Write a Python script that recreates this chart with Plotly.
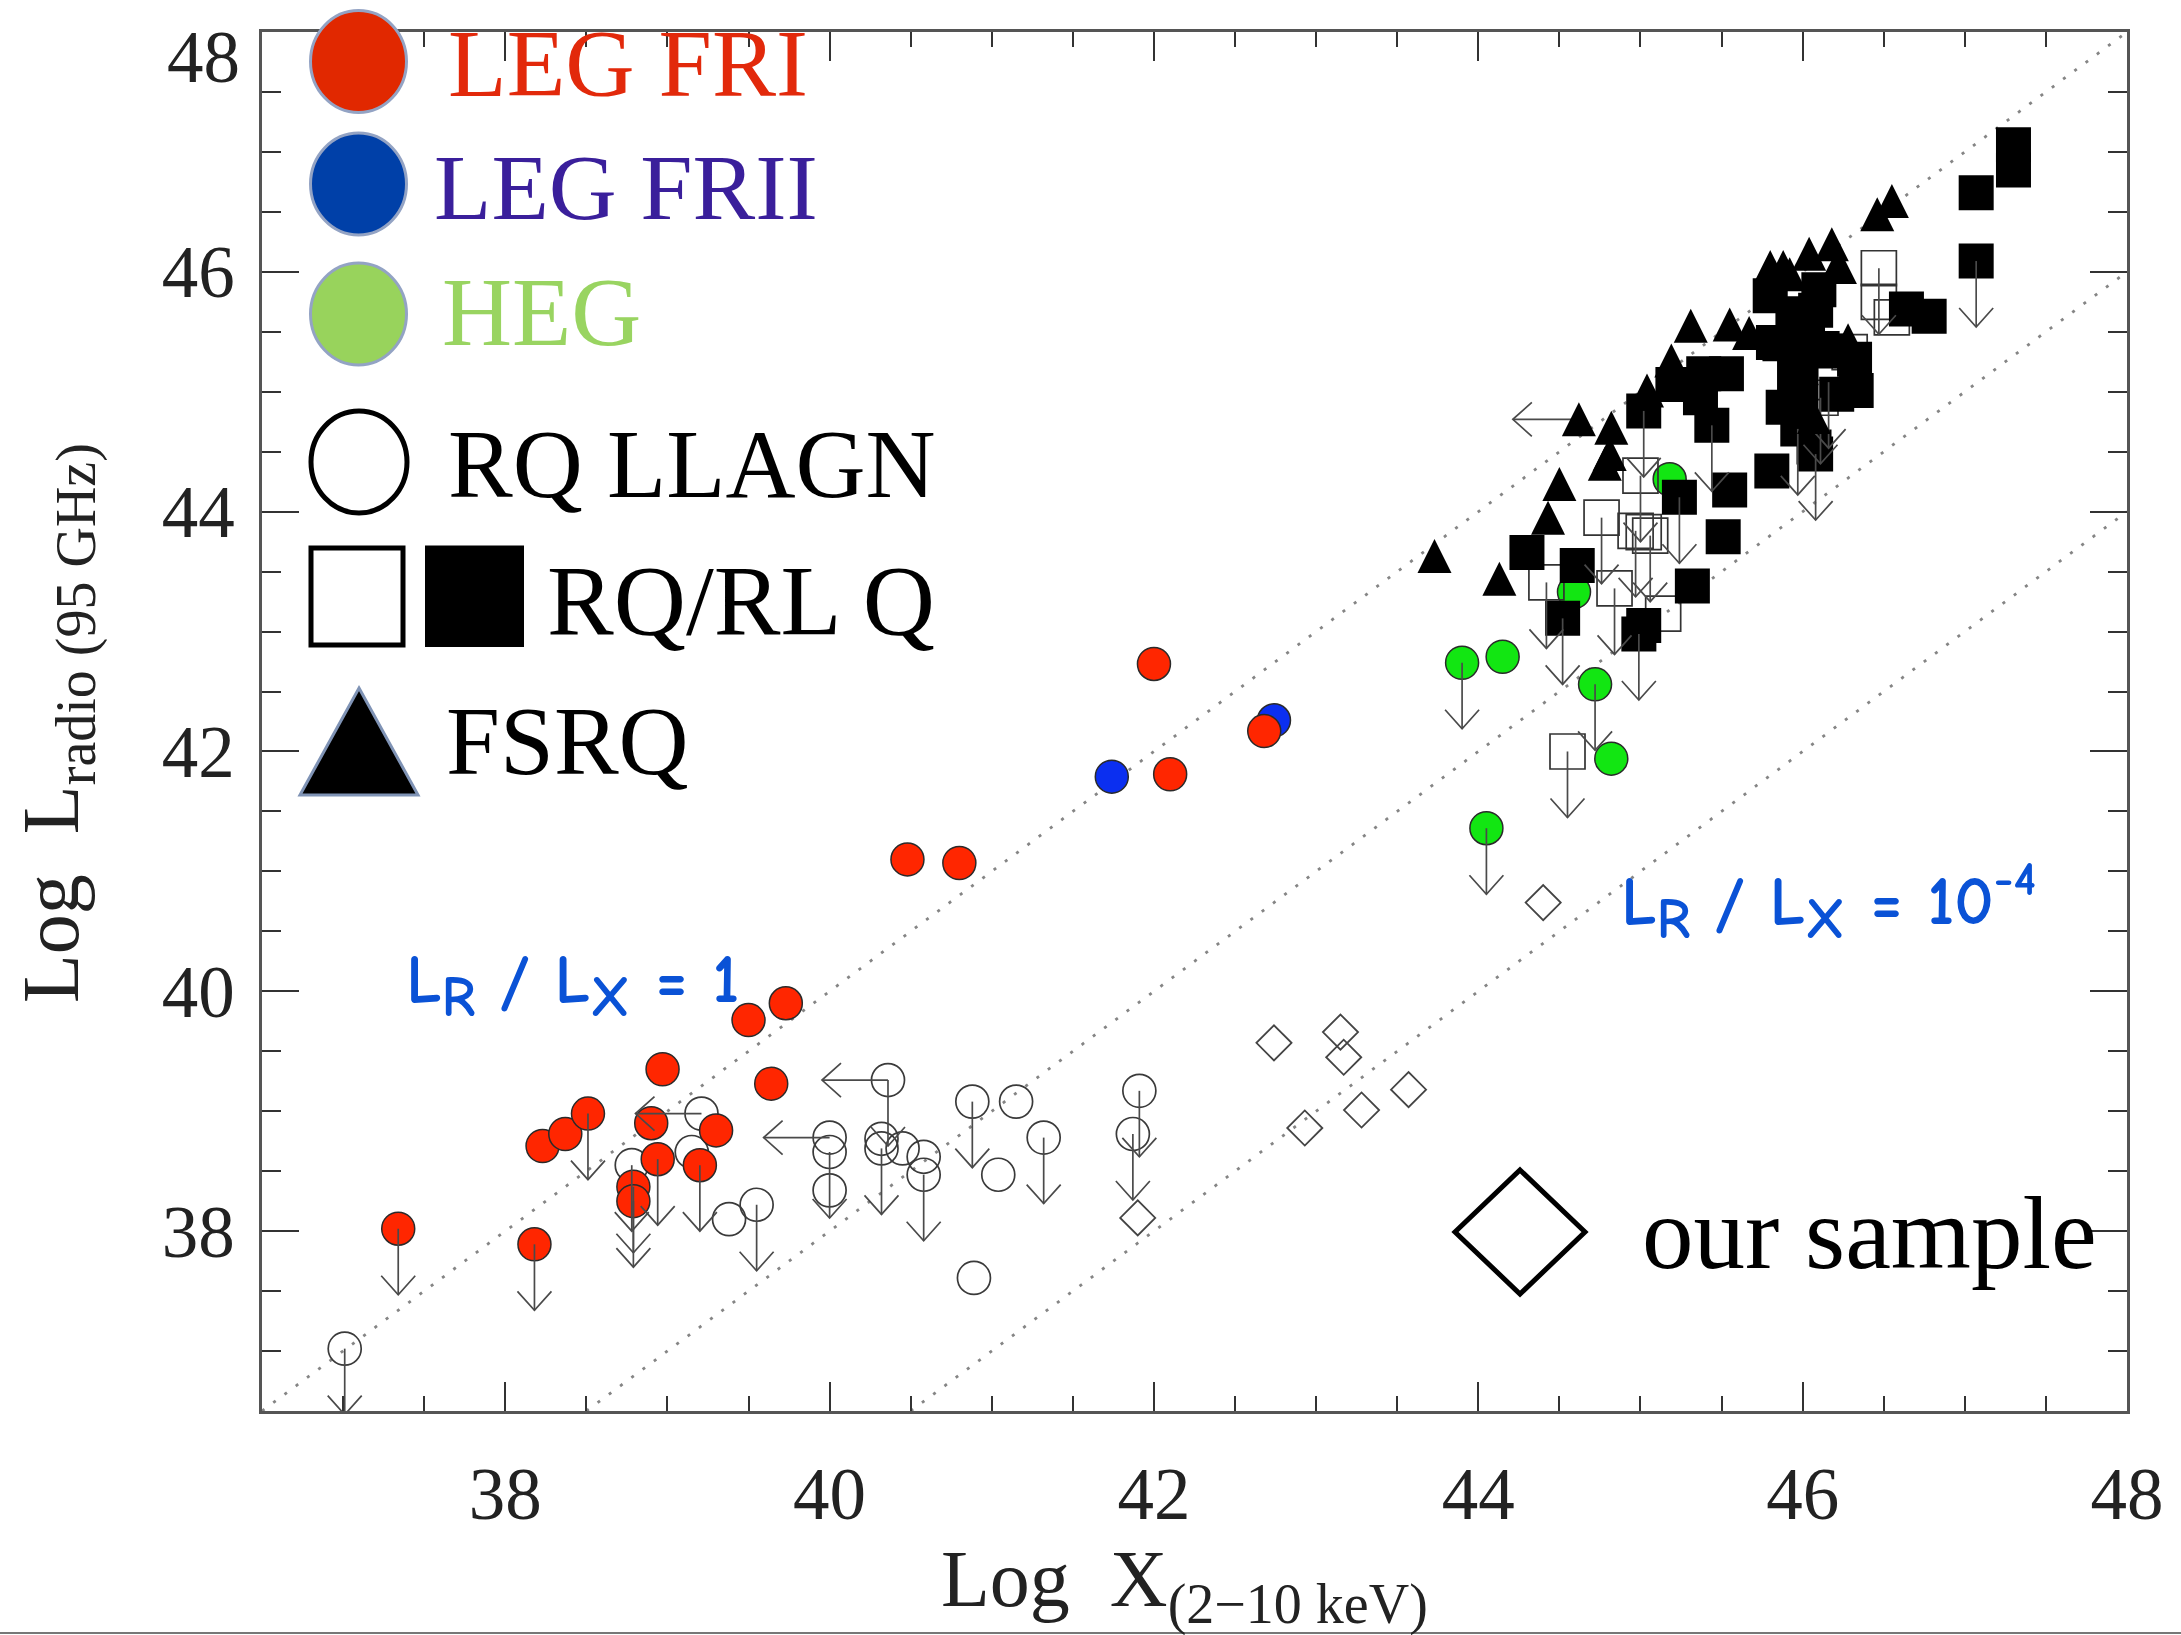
import plotly.graph_objects as go

# ---------------------------------------------------------------
# Axis ranges (log luminosities)
# ---------------------------------------------------------------
X_RANGE = [36.5, 48.0]
Y_RANGE = [36.5, 48.0]
MAJOR_TICKS = [38, 40, 42, 44, 46, 48]

# constant L_R / L_X ratios, as log offsets (1, 1e-2, 1e-4)
RATIO_OFFSETS = [0.0, -2.0, -4.0]

# ---------------------------------------------------------------
# Samples: log X(2-10 keV), log L_radio(95 GHz), limit flags
# flags: 'd' = upper limit in L_radio, 'l' = upper limit in X
# ---------------------------------------------------------------
fri_x = [37.34, 38.18, 38.23, 38.37, 38.51, 38.97, 38.90, 39.30, 38.94, 39.20,
         38.79, 38.79, 39.50, 39.73, 39.64, 40.48, 40.80, 42.00, 42.10, 42.68]
fri_y = [38.02, 37.89, 38.71, 38.81, 38.98, 39.35, 38.90, 38.84, 38.60, 38.55,
         38.37, 38.25, 39.76, 39.90, 39.23, 41.10, 41.07, 42.73, 41.81, 42.17]
fri_lim = ['d', 'd', '', '', 'd', '', '', '', 'd', 'd',
           'd', 'd', '', '', '', '', '', '', '', '']

frii_x = [41.74, 42.74]
frii_y = [41.79, 42.26]
frii_lim = ['', '']

heg_x = [43.90, 44.15, 44.59, 44.72, 44.82, 44.05, 45.18]
heg_y = [42.74, 42.79, 43.33, 42.56, 41.94, 41.36, 44.27]
heg_lim = ['d', '', '', 'd', '', 'd', '']

llagn_x = [37.01, 38.78, 39.21, 39.15, 39.38, 39.55, 40.00, 40.00, 40.00, 40.32,
           40.32, 40.36, 40.45, 40.58, 40.58, 40.88, 41.15, 41.04, 41.32, 40.89,
           41.91, 41.87]
llagn_y = [37.02, 38.55, 38.98, 38.66, 38.10, 38.22, 38.78, 38.66, 38.34, 38.77,
           38.69, 39.26, 38.69, 38.62, 38.47, 39.08, 39.08, 38.47, 38.78, 37.61,
           39.17, 38.81]
llagn_lim = ['d', 'd', 'l', '', '', 'd', 'l', 'd', '', '',
             'd', 'dl', '', '', 'd', 'd', '', '', 'd', '',
             'd', 'd']

rq_x = [44.55, 45.00, 44.76, 44.97, 45.02, 45.06, 44.42, 44.84, 45.14, 46.47,
        46.47, 46.55, 46.29, 46.11, 46.16]
rq_y = [42.00, 44.30, 43.95, 43.84, 43.83, 43.80, 43.41, 43.36, 43.15, 46.03,
        45.75, 45.62, 45.33, 44.95, 45.08]
rq_lim = ['d', 'd', 'd', 'd', '', 'd', 'd', 'd', '', 'd',
          '', '', '', 'd', 'd']

rl_x = [44.30, 44.61, 44.52, 45.02, 44.99, 45.32, 45.51, 45.24, 45.55, 45.81,
        46.08, 45.02, 45.44, 45.20, 45.37, 45.53, 45.86, 45.99, 45.94, 46.08,
        45.88, 45.99, 46.19, 46.21, 47.30, 47.30, 47.07, 47.07, 46.64, 46.78,
        46.33, 46.07, 45.97, 45.39, 45.95, 46.03, 45.82, 45.95, 46.12, 46.32,
        45.80, 46.10]
rl_y = [43.66, 43.55, 43.11, 43.05, 42.98, 43.38, 43.79, 44.12, 44.18, 44.34,
        44.48, 44.84, 44.72, 45.06, 44.95, 45.15, 45.40, 45.20, 45.53, 45.68,
        44.87, 44.92, 45.34, 44.98, 47.06, 46.85, 46.66, 46.09, 45.69, 45.63,
        45.01, 44.54, 44.69, 45.15, 45.14, 45.41, 45.41, 45.65, 45.36, 45.27,
        45.80, 45.85]
rl_lim = ['', '', 'd', '', 'd', '', '', 'd', '', '',
          'd', 'd', 'd', '', '', '', '', '', '', '',
          '', '', '', '', '', '', '', 'd', '', '',
          '', '', 'd', '', '', '', '', '', '', '',
          '', '']

fsrq_x = [43.73, 44.13, 44.43, 44.50, 44.78, 44.81, 44.82, 44.62, 45.04, 45.19,
          45.31, 45.55, 45.67, 45.80, 45.88, 46.04, 46.18, 46.21, 46.07, 46.55,
          46.46, 46.23, 45.92, 46.28]
fsrq_y = [43.63, 43.44, 43.95, 44.23, 44.40, 44.48, 44.70, 44.77, 45.01, 45.26,
          45.55, 45.56, 45.49, 46.04, 46.04, 46.15, 46.23, 46.04, 44.79, 46.59,
          46.48, 46.04, 45.98, 45.43]
fsrq_lim = ['', '', '', '', '', '', '', 'l', '', '',
            '', '', '', '', '', '', '', '', '', '',
            '', '', '', '']

ours_x = [44.40, 42.74, 43.15, 43.17, 43.57, 43.28, 42.93, 41.90]
ours_y = [40.74, 39.57, 39.66, 39.45, 39.18, 39.01, 38.86, 38.11]

# ---------------------------------------------------------------
# Page geometry
# ---------------------------------------------------------------
FIG_W, FIG_H = 2181, 1635
M_L, M_R, M_T, M_B = 262, 54, 32, 224
PLOT_W = FIG_W - M_L - M_R
PLOT_H = FIG_H - M_T - M_B
PX_X = PLOT_W / (X_RANGE[1] - X_RANGE[0])
PX_Y = PLOT_H / (Y_RANGE[1] - Y_RANGE[0])


def px(xp):
    return (xp - M_L) / PLOT_W


def py(yp):
    return (M_T + PLOT_H - yp) / PLOT_H


# limit arrows: fixed on-screen length, open "V" heads
ARROW_LEN, HEAD_HALF, HEAD_LEN = 66, 17, 19


def limit_arrows(xs, ys, flags):
    ax, ay = [], []
    for x, y, f in zip(xs, ys, flags):
        if 'd' in f:
            L = ARROW_LEN / PX_Y
            w = HEAD_HALF / PX_X
            h = HEAD_LEN / PX_Y
            ax += [x, x, None, x - w, x, x + w, None]
            ay += [y, y - L, None, y - L + h, y - L, y - L + h, None]
        if 'l' in f:
            L = ARROW_LEN / PX_X
            w = HEAD_HALF / PX_Y
            h = HEAD_LEN / PX_X
            ax += [x, x - L, None, x - L + h, x - L, x - L + h, None]
            ay += [y, y, None, y + w, y, y - w, None]
    return ax, ay


fig = go.Figure()

# dotted constant-ratio lines
for off in RATIO_OFFSETS:
    x0 = max(X_RANGE[0], Y_RANGE[0] - off)
    x1 = min(X_RANGE[1], Y_RANGE[1] - off)
    fig.add_trace(go.Scatter(
        x=[x0, x1], y=[x0 + off, x1 + off], mode='lines',
        line=dict(color='#858585', width=2.8, dash='3px,11px'),
        hoverinfo='skip', showlegend=False))

OUT = '#2a2a2a'

# RQ LLAGN (open circles)
fig.add_trace(go.Scatter(
    x=llagn_x, y=llagn_y, mode='markers', showlegend=False,
    marker=dict(symbol='circle-open', size=33, color='#3a3a3a',
                line=dict(width=1.7))))

# our sample (open diamonds)
fig.add_trace(go.Scatter(
    x=ours_x, y=ours_y, mode='markers', showlegend=False,
    marker=dict(symbol='diamond-open', size=27, color='#444444',
                line=dict(width=1.8))))

# LEG FRII
fig.add_trace(go.Scatter(
    x=frii_x, y=frii_y, mode='markers', showlegend=False,
    marker=dict(symbol='circle', size=33, color='#0b2ff0',
                line=dict(color=OUT, width=1.5))))

# LEG FRI
fig.add_trace(go.Scatter(
    x=fri_x, y=fri_y, mode='markers', showlegend=False,
    marker=dict(symbol='circle', size=33, color='#ff2600',
                line=dict(color=OUT, width=1.5))))

# HEG
fig.add_trace(go.Scatter(
    x=heg_x, y=heg_y, mode='markers', showlegend=False,
    marker=dict(symbol='circle', size=33, color='#12e612',
                line=dict(color=OUT, width=1.5))))

# RQ quasars (open squares)
fig.add_trace(go.Scatter(
    x=rq_x, y=rq_y, mode='markers', showlegend=False,
    marker=dict(symbol='square-open', size=35, color='#333333',
                line=dict(width=1.7))))

# RL quasars (filled squares)
fig.add_trace(go.Scatter(
    x=rl_x, y=rl_y, mode='markers', showlegend=False,
    marker=dict(symbol='square', size=35, color='black',
                line=dict(width=0))))

# FSRQ: apex-anchored triangle symbol on an axis shifted by half its height
TRI_SIZE = 34
TRI_SHIFT = (TRI_SIZE / 2) / PX_Y
fig.add_trace(go.Scatter(
    x=fsrq_x, y=fsrq_y, mode='markers', yaxis='y2', showlegend=False,
    marker=dict(symbol='arrow-up', size=TRI_SIZE, color='black',
                line=dict(width=0))))

# limit arrows on top
arr_x, arr_y = [], []
for xs, ys, fl in [(fri_x, fri_y, fri_lim), (frii_x, frii_y, frii_lim),
                   (heg_x, heg_y, heg_lim), (llagn_x, llagn_y, llagn_lim),
                   (rq_x, rq_y, rq_lim), (rl_x, rl_y, rl_lim),
                   (fsrq_x, fsrq_y, fsrq_lim)]:
    a, b = limit_arrows(xs, ys, fl)
    arr_x += a
    arr_y += b
fig.add_trace(go.Scatter(
    x=arr_x, y=arr_y, mode='lines', showlegend=False, hoverinfo='skip',
    line=dict(color='#4a4a4a', width=1.7)))

# ---------------------------------------------------------------
# Axes
# ---------------------------------------------------------------
TICK_FONT = dict(family='Liberation Serif', size=73, color='#222222')
axis_common = dict(showline=True, linecolor='#555555', linewidth=2.5,
                   mirror='ticks', ticks='inside', tickcolor='#333333',
                   tickwidth=2, showgrid=False, zeroline=False,
                   tickfont=TICK_FONT, tickmode='array', tickvals=MAJOR_TICKS)

fig.update_layout(
    width=FIG_W, height=FIG_H,
    margin=dict(l=M_L, r=M_R, t=M_T, b=M_B, autoexpand=False),
    paper_bgcolor='white', plot_bgcolor='white',
    xaxis=dict(range=X_RANGE, ticklen=29,
               ticktext=[str(v) for v in MAJOR_TICKS],
               ticklabelstandoff=18,
               minor=dict(dtick=0.5, tick0=0, ticks='inside', ticklen=15,
                          tickcolor='#333333', tickwidth=2),
               **axis_common),
    yaxis=dict(range=Y_RANGE, ticklen=37,
               ticktext=[str(v) for v in MAJOR_TICKS[:-1]] + [''],
               ticklabelstandoff=10,
               minor=dict(dtick=0.5, tick0=0, ticks='inside', ticklen=19,
                          tickcolor='#333333', tickwidth=2),
               **axis_common),
    yaxis2=dict(overlaying='y', anchor='x', visible=False,
                range=[Y_RANGE[0] - TRI_SHIFT, Y_RANGE[1] - TRI_SHIFT]),
)

annotations = []
# top y label sits just below the frame corner
annotations.append(dict(text='48', xref='paper', yref='y', x=px(242), y=47.79,
                        xanchor='right', yanchor='middle', showarrow=False,
                        font=TICK_FONT))

# axis titles
annotations.append(dict(
    text='Log\u2002X<sub>(2\u221210 keV)</sub>', xref='paper', yref='paper',
    x=px(1184), y=py(1585), xanchor='center', yanchor='middle', showarrow=False,
    font=dict(family='Liberation Serif', size=80, color='#222222')))
annotations.append(dict(
    text='Log\u2002L<sub>radio (95 GHz)</sub>', xref='paper', yref='paper',
    x=px(58), y=py(723), xanchor='center', yanchor='middle', showarrow=False,
    textangle=-90,
    font=dict(family='Liberation Serif', size=80, color='#222222')))

# ratio labels
HAND = dict(family='Comic Sans MS, Comic Neue, Lato', size=69,
            color='#0a52d6', weight='bold')
SUB_R = '<sub><span style="font-size:58px">R</span></sub>'
SUB_X = '<sub><span style="font-size:58px">X</span></sub>'
annotations.append(dict(text=f'L{SUB_R} / L{SUB_X} = 1',
                        xref='paper', yref='paper', x=px(572), y=py(985),
                        xanchor='center', yanchor='middle', showarrow=False,
                        font=HAND))
annotations.append(dict(text=f'L{SUB_R} / L{SUB_X} = 10<sup>-4</sup>',
                        xref='paper', yref='paper', x=px(1828), y=py(902),
                        xanchor='center', yanchor='middle', showarrow=False,
                        font=HAND))

# key entries
KEY_FONT = 'Liberation Serif'
key_text = [
    ('LEG FRI', 446, 64, '#e2290b', 96),
    ('LEG FRII', 432, 187, '#3a1f9b', 94),
    ('HEG', 440, 312, '#99d461', 97),
    ('RQ LLAGN', 446, 464, 'black', 97),
    ('RQ/RL Q', 545, 600, 'black', 100),
    ('FSRQ', 444, 741, 'black', 97),
    ('our sample', 1640, 1233, 'black', 103),
]
for t, xl, yc, col, fs in key_text:
    annotations.append(dict(text=t, xref='paper', yref='paper', x=px(xl),
                            y=py(yc), xanchor='left', yanchor='middle',
                            showarrow=False,
                            font=dict(family=KEY_FONT, size=fs, color=col)))

shapes = []
KEY_EDGE = '#93a3c4'
for yc, col in [(61.5, '#e12800'), (184, '#0040a8'), (314, '#98d35c')]:
    shapes.append(dict(type='circle', xref='paper', yref='paper',
                       x0=px(310.5), x1=px(406.5), y0=py(yc + 51), y1=py(yc - 51),
                       fillcolor=col, line=dict(color=KEY_EDGE, width=3)))
shapes.append(dict(type='circle', xref='paper', yref='paper',
                   x0=px(311), x1=px(407), y0=py(513), y1=py(411),
                   fillcolor='rgba(0,0,0,0)', line=dict(color='black', width=5)))
shapes.append(dict(type='rect', xref='paper', yref='paper',
                   x0=px(311), x1=px(403), y0=py(645), y1=py(548),
                   fillcolor='rgba(0,0,0,0)', line=dict(color='black', width=5)))
shapes.append(dict(type='rect', xref='paper', yref='paper',
                   x0=px(425), x1=px(524), y0=py(647), y1=py(545.5),
                   fillcolor='black', line=dict(color='black', width=0)))
shapes.append(dict(type='path', xref='paper', yref='paper',
                   path=f'M {px(359)},{py(688)} L {px(418)},{py(795)} '
                        f'L {px(300)},{py(795)} Z',
                   fillcolor='black', line=dict(color='#7f93b5', width=3)))
shapes.append(dict(type='path', xref='paper', yref='paper',
                   path=f'M {px(1520)},{py(1170)} L {px(1585)},{py(1232)} '
                        f'L {px(1520)},{py(1294)} L {px(1455)},{py(1232)} Z',
                   fillcolor='rgba(0,0,0,0)', line=dict(color='black', width=5)))
# thin rule along the bottom edge of the page
shapes.append(dict(type='line', xref='paper', yref='paper',
                   x0=px(0), x1=px(FIG_W), y0=py(1633), y1=py(1633),
                   line=dict(color='#777777', width=2)))

fig.update_layout(annotations=annotations, shapes=shapes)

fig.write_html('out.html')
